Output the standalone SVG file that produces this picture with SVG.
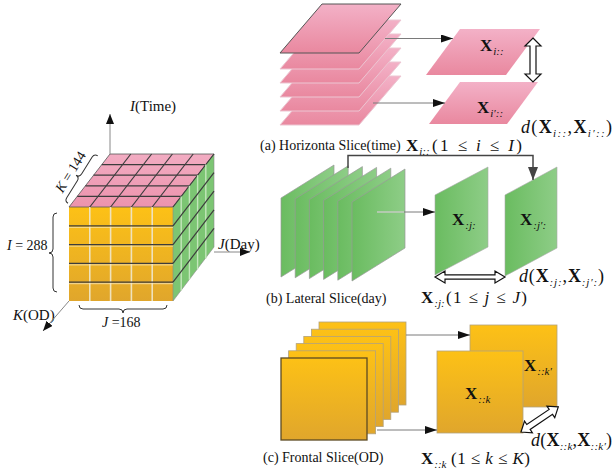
<svg xmlns="http://www.w3.org/2000/svg" width="613" height="476" viewBox="0 0 613 476">
<defs>
<style>
.cap{font-family:"Liberation Serif","Times New Roman",serif;font-size:14px;fill:#111}
.m{font-family:"Liberation Serif","Times New Roman",serif;font-size:17px;fill:#111}
.md{font-family:"Liberation Serif","Times New Roman",serif;font-size:18px;fill:#111}
.ax{font-family:"Liberation Serif","Times New Roman",serif;font-size:15px;fill:#111}
.lab{font-family:"Liberation Serif","Times New Roman",serif;font-size:14px;fill:#111}
.b{font-weight:bold;font-style:normal}
.it{font-style:italic}
.sub{font-size:11px;font-style:italic;font-weight:normal}
.thin{stroke:#7a7a7a;stroke-width:1;fill:none}
.axis{stroke:#888;stroke-width:1;fill:none}
.dbl{fill:#fff;stroke:#111;stroke-width:1.2}
.brace{fill:none;stroke:#333;stroke-width:1}
.pk{fill:url(#gPink);stroke:#ecc6d2;stroke-width:1}
.gr{fill:url(#gGreen);stroke:#9a9a9a;stroke-width:0.7}
.or{fill:url(#gOrange);stroke:#b2a27e;stroke-width:0.8}
.dk{stroke:#3c3c3c;stroke-width:1.2;fill:none}
</style>
<linearGradient id="gPink" x1="0" y1="0" x2="0" y2="1"><stop offset="0" stop-color="#f3b1c7"/><stop offset="1" stop-color="#e9889f"/></linearGradient>
<linearGradient id="gGreen" x1="0" y1="0" x2="1" y2="0"><stop offset="0" stop-color="#6abc60"/><stop offset="1" stop-color="#8ecd87"/></linearGradient>
<linearGradient id="gOrange" x1="0" y1="0" x2="0" y2="1"><stop offset="0" stop-color="#fdc116"/><stop offset="1" stop-color="#e0a62c"/></linearGradient>
<linearGradient id="gTop" x1="0" y1="1" x2="0" y2="0"><stop offset="0" stop-color="#ec93ad"/><stop offset="1" stop-color="#f2acc2"/></linearGradient>
<marker id="ah" markerUnits="userSpaceOnUse" markerWidth="12" markerHeight="8" refX="12" refY="4" orient="auto"><path d="M0,0 L12,4 L0,8 Z" fill="#111"/></marker>
<marker id="ahAx" markerUnits="userSpaceOnUse" markerWidth="10" markerHeight="8" refX="10" refY="4" orient="auto"><path d="M0,0 L10,4 L0,8 Z" fill="#111"/></marker>
<marker id="ahBig" markerUnits="userSpaceOnUse" markerWidth="13" markerHeight="10" refX="13" refY="5" orient="auto"><path d="M0,0 L13,5 L0,10 Z" fill="#444"/></marker>
</defs>

<!-- Tensor cube -->
<g id="cube">
  <rect x="69" y="207" width="104" height="94" fill="url(#gOrange)"/>
  <polygon points="69,207 173,207 214,154 110,154" fill="url(#gTop)" stroke="#555" stroke-width="0.8"/>
  <polygon points="173,207 214,154 214,247 173,301" fill="#7cc573" stroke="#8a8a8a" stroke-width="0.6"/>
  <g stroke="#efe2bd" stroke-width="1.6">
    <line x1="89.8" y1="207" x2="89.8" y2="301"/><line x1="110.6" y1="207" x2="110.6" y2="301"/>
    <line x1="131.4" y1="207" x2="131.4" y2="301"/><line x1="152.2" y1="207" x2="152.2" y2="301"/>
  </g>
  <g stroke="#f7e9bf" stroke-width="0.8">
    <line x1="69" y1="227.3" x2="173" y2="227.3"/><line x1="69" y1="246.1" x2="173" y2="246.1"/>
    <line x1="69" y1="264.9" x2="173" y2="264.9"/><line x1="69" y1="283.7" x2="173" y2="283.7"/>
  </g>
  <g class="dk">
    <line x1="69" y1="225.8" x2="173" y2="225.8"/><line x1="69" y1="244.6" x2="173" y2="244.6"/>
    <line x1="69" y1="263.4" x2="173" y2="263.4"/><line x1="69" y1="282.2" x2="173" y2="282.2"/>
  </g>
  <g class="dk">
    <line x1="77.2" y1="196.4" x2="181.2" y2="196.4"/><line x1="85.4" y1="185.8" x2="189.4" y2="185.8"/>
    <line x1="93.6" y1="175.2" x2="197.6" y2="175.2"/><line x1="101.8" y1="164.6" x2="205.8" y2="164.6"/>
    <line x1="89.8" y1="207" x2="130.8" y2="154"/><line x1="110.6" y1="207" x2="151.6" y2="154"/>
    <line x1="131.4" y1="207" x2="172.4" y2="154"/><line x1="152.2" y1="207" x2="193.2" y2="154"/>
    <line x1="173" y1="207" x2="214" y2="154"/>
  </g>
  <g stroke="#c3e6bb" stroke-width="1.4">
    <line x1="181.2" y1="196.4" x2="181.2" y2="290.4"/><line x1="189.4" y1="185.8" x2="189.4" y2="279.8"/>
    <line x1="197.6" y1="175.2" x2="197.6" y2="269.2"/><line x1="205.8" y1="164.6" x2="205.8" y2="258.6"/>
  </g>
  <g class="dk">
    <line x1="173" y1="225.8" x2="214" y2="172.6"/><line x1="173" y1="244.6" x2="214" y2="191.2"/>
    <line x1="173" y1="263.4" x2="214" y2="209.8"/><line x1="173" y1="282.2" x2="214" y2="228.4"/>
  </g>
  <path class="brace" d="M57,213 Q53,213 53,217 L53,249 Q53,253 49,253 Q53,253 53,257 L53,288 Q53,292 57,292"/>
  <path class="brace" d="M79,305 Q79,309 83,309 L119,309 Q123,309 123,313 Q123,309 127,309 L163,309 Q167,309 167,305"/>
  <g transform="translate(82,179) rotate(-58)">
    <path class="brace" d="M-28,1 Q-28,-3 -24,-3 L-4,-3 Q0,-3 0,-7 Q0,-3 4,-3 L24,-3 Q28,-3 28,1"/>
    <text x="0" y="-9" class="lab" text-anchor="middle"><tspan class="it">K</tspan> = 144</text>
  </g>
  <text x="7" y="250" class="lab"><tspan class="it">I</tspan> = 288</text>
  <text x="102" y="327" class="lab"><tspan class="it">J</tspan> =168</text>
  <text x="130" y="111" class="ax"><tspan class="it">I</tspan>(Time)</text>
  <text x="218" y="249" class="ax"><tspan class="it">J</tspan>(Day)</text>
  <text x="13" y="320" class="ax"><tspan class="it">K</tspan>(OD)</text>
</g>

<!-- (a) horizontal slices -->
<g id="horizontal-stack">
  <polygon class="pk" points="322,4 401,4 359,53 280,53" transform="translate(0,72)"/>
  <polygon class="pk" points="322,4 401,4 359,53 280,53" transform="translate(0,58)"/>
  <polygon class="pk" points="322,4 401,4 359,53 280,53" transform="translate(0,44)"/>
  <polygon class="pk" points="322,4 401,4 359,53 280,53" transform="translate(0,30)"/>
  <polygon class="pk" points="322,4 401,4 359,53 280,53" transform="translate(0,16)"/>
  <polygon points="322,4 401,4 359,53 280,53" fill="url(#gPink)" stroke="#555" stroke-width="1"/>
</g>
<g id="slice-i">
  <polygon points="460,29 540,29 506,75 426,75" fill="url(#gPink)"/>
  <text x="480" y="51" class="m"><tspan class="b">X</tspan><tspan class="sub" dx="1" dy="4">i::</tspan></text>
</g>
<g id="slice-i2">
  <polygon points="460,82 538,82 507,124 429,124" fill="url(#gPink)"/>
  <text x="477" y="113" class="m"><tspan class="b">X</tspan><tspan class="sub" dx="1" dy="4">i′::</tspan></text>
</g>
<g id="label-a">
  <text x="260" y="150" class="cap">(a) Horizonta Slice(time)</text>
  <text x="406" y="151" class="m"><tspan class="b">X</tspan><tspan class="sub" dx="1" dy="4">i::</tspan></text>
  <text x="432" y="151" class="m" textLength="90" lengthAdjust="spacing">(1 ≤ <tspan class="it">i</tspan> ≤ <tspan class="it">I</tspan>)</text>
  <text x="521" y="133" class="md" textLength="91" lengthAdjust="spacing"><tspan class="it">d</tspan>(<tspan class="b">X</tspan><tspan class="sub" dy="4">i::</tspan><tspan dy="-4">,</tspan><tspan class="b">X</tspan><tspan class="sub" dy="4">i′::</tspan><tspan dy="-4">)</tspan></text>
</g>

<!-- (b) lateral slices -->
<g id="lateral-stack">
  <polygon class="gr" points="281,198 334,165 334,244 281,277"/>
  <polygon class="gr" points="295.2,198.8 348.2,165.8 348.2,244.8 295.2,277.8"/>
  <polygon class="gr" points="309.4,199.6 362.4,166.6 362.4,245.6 309.4,278.6"/>
  <polygon class="gr" points="323.6,200.4 376.6,167.4 376.6,246.4 323.6,279.4"/>
  <polygon class="gr" points="337.8,201.2 390.8,168.2 390.8,247.2 337.8,280.2"/>
  <polygon class="gr" points="352,202 405,169 405,248 352,281"/>
</g>
<g id="slice-j">
  <polygon points="435,195 488,167 488,247 435,275" fill="url(#gGreen)" stroke="#a8a8a8" stroke-width="0.6"/>
  <text x="452" y="225" class="m"><tspan class="b">X</tspan><tspan class="sub" dx="1" dy="4">:j:</tspan></text>
</g>
<g id="slice-j2">
  <polygon points="505,195 557,167 557,248 505,276" fill="url(#gGreen)" stroke="#a8a8a8" stroke-width="0.6"/>
  <text x="520" y="225" class="m"><tspan class="b">X</tspan><tspan class="sub" dx="1" dy="4">:j′:</tspan></text>
</g>
<g id="label-b">
  <text x="266" y="303" class="cap">(b) Lateral Slice(day)</text>
  <text x="421" y="303" class="m"><tspan class="b">X</tspan><tspan class="sub" dx="1" dy="4">:j:</tspan></text>
  <text x="446" y="303" class="m" textLength="81" lengthAdjust="spacing">(1 ≤ <tspan class="it">j</tspan> ≤ <tspan class="it">J</tspan>)</text>
  <text x="519" y="282" class="md" textLength="85" lengthAdjust="spacing"><tspan class="it">d</tspan>(<tspan class="b">X</tspan><tspan class="sub" dy="4">:j:</tspan><tspan dy="-4">,</tspan><tspan class="b">X</tspan><tspan class="sub" dy="4">:j′:</tspan><tspan dy="-4">)</tspan></text>
</g>

<!-- (c) frontal slices -->
<g id="frontal-stack">
  <rect class="or" x="319" y="322" width="87" height="83"/>
  <rect class="or" x="311.4" y="329.2" width="87" height="83"/>
  <rect class="or" x="303.8" y="336.4" width="87" height="83"/>
  <rect class="or" x="296.2" y="343.6" width="87" height="83"/>
  <rect class="or" x="288.6" y="350.8" width="87" height="83"/>
  <rect x="281" y="358" width="86" height="82" fill="url(#gOrange)" stroke="#5c4b22" stroke-width="1.3"/>
</g>
<g id="slice-k2">
  <rect class="or" x="470" y="325" width="87" height="82"/>
  <text x="524" y="371" class="m"><tspan class="b">X</tspan><tspan class="sub" dx="1" dy="4">::k′</tspan></text>
</g>
<g id="slice-k">
  <rect class="or" x="437" y="351" width="86" height="82"/>
  <text x="465" y="399" class="m"><tspan class="b">X</tspan><tspan class="sub" dx="1" dy="4">::k</tspan></text>
</g>
<g id="label-c">
  <text x="263" y="462" class="cap">(c) Frontal Slice(OD)</text>
  <text x="421" y="464" class="m"><tspan class="b">X</tspan><tspan class="sub" dx="1" dy="4">::k</tspan></text>
  <text x="451" y="464" class="m" textLength="79" lengthAdjust="spacing">(1 ≤ <tspan class="it">k</tspan> ≤ <tspan class="it">K</tspan>)</text>
  <text x="531" y="446" class="md" textLength="81" lengthAdjust="spacing"><tspan class="it">d</tspan>(<tspan class="b">X</tspan><tspan class="sub" dy="4">::k</tspan><tspan dy="-4">,</tspan><tspan class="b">X</tspan><tspan class="sub" dy="4">::k′</tspan><tspan dy="-4">)</tspan></text>
</g>

<g id="connectors">
  <line class="axis" x1="110" y1="154" x2="110" y2="114" marker-end="url(#ahAx)"/>
  <line class="axis" x1="214" y1="252" x2="250" y2="252" marker-end="url(#ahAx)"/>
  <line class="axis" x1="69" y1="301" x2="43" y2="331" marker-end="url(#ahAx)"/>
  <line class="thin" x1="385" y1="38.5" x2="453" y2="38.5" marker-end="url(#ah)"/>
  <line class="thin" x1="373" y1="103" x2="445" y2="103" marker-end="url(#ah)"/>
  <line class="thin" x1="377" y1="212" x2="435" y2="212" marker-end="url(#ah)"/>
  <line x1="377" y1="212" x2="404" y2="212" stroke="#e8f4e4" stroke-width="1"/>
  <line class="thin" x1="406" y1="335" x2="470" y2="335" marker-end="url(#ah)"/>
  <line class="thin" x1="377" y1="430" x2="437" y2="430" marker-end="url(#ah)"/>
  <path d="M348,168 V155.5 H533 V180" fill="none" stroke="#444" stroke-width="1.5" marker-end="url(#ahBig)"/>
  <polygon class="dbl" transform="translate(533,38) rotate(90)" points="0,0 8,-8 8,-3 36,-3 36,-8 44,0 36,8 36,3 8,3 8,8"/>
  <polygon class="dbl" transform="translate(435,277)" points="0,0 10,-6 10,-2.2 60,-2.2 60,-6 70,0 60,6 60,2.2 10,2.2 10,6"/>
  <polygon class="dbl" transform="translate(521,432) rotate(-34)" points="0,0 9,-7 9,-3 36,-3 36,-7 45,0 36,7 36,3 9,3 9,7"/>
</g>
</svg>
